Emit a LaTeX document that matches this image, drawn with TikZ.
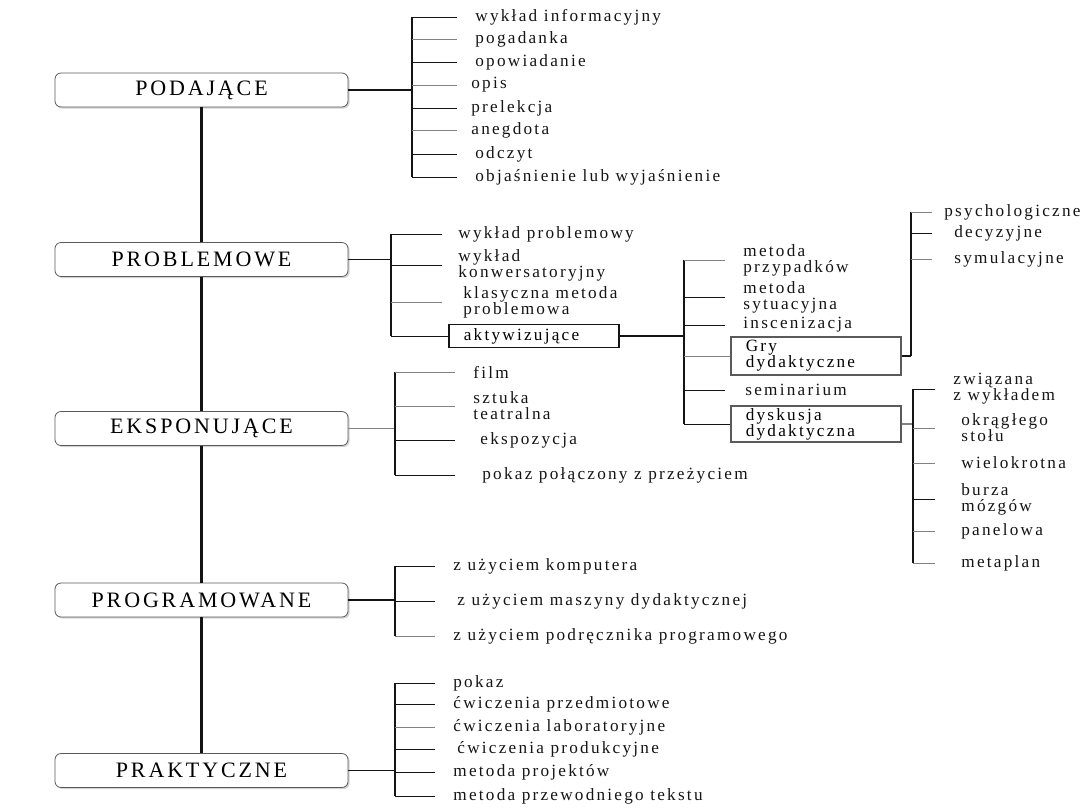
\documentclass[tikz,border=0pt]{standalone}
\usepackage{fontspec}
\setmainfont[LetterSpace=13]{Liberation Serif}
\usepackage{xcolor}
\usetikzlibrary{shadows}
\definecolor{inkdark}{RGB}{20,20,20}
\definecolor{linegray}{RGB}{130,130,130}
\definecolor{boxgray}{RGB}{90,90,90}

\begin{document}
\begin{tikzpicture}[
    x=0.5pt, y=-0.5pt,
    cat/.style={draw=boxgray, rounded corners=3pt, fill=white, minimum width=146.5pt,
                minimum height=17pt, inner sep=0pt, font=\fontsize{11}{12}\selectfont,
                drop shadow={shadow xshift=0.8pt, shadow yshift=-0.8pt, opacity=.35}},
    item/.style={anchor=west, inner xsep=#1, inner ysep=0pt, align=left,
                font=\fontsize{8.6}{8}\selectfont, text=inkdark},
    item/.default=9pt,
    subbox/.style={draw=#1, line width=0.8pt, anchor=west, align=left, text width=70pt,
                inner xsep=7.5pt, inner ysep=1pt, font=\fontsize{8.6}{8}\selectfont},
    trunk/.style={line width=1.2pt, inkdark},
    link/.style={line width=0.6pt, inkdark},
    brack/.style={line width=0.9pt, inkdark},
    tick/.style={line width=0.5pt, inkdark},
    tickg/.style={line width=0.5pt, linegray}
]
\useasboundingbox (0,0) rectangle (1080,810);

% main categories
\node[cat] (pod)  at (201.5,90)  {PODAJĄCE};
\node[cat] (prob) at (201.5,259.5) {PROBLEMOWE};
\node[cat] (eks)  at (201.5,428.5) {EKSPONUJĄCE};
\node[cat] (prog) at (201.5,600) {PROGRAMOWANE};
\node[cat] (prak) at (201.5,770.5) {PRAKTYCZNE};

\draw[trunk] (pod) -- (prob);
\draw[trunk] (prob) -- (eks);
\draw[trunk] (eks) -- (prog);
\draw[trunk] (prog) -- (prak);

% podajace
\coordinate (podb) at (412,90);
\node[item] (p1) at (457,17)  {wykład informacyjny};
\node[item] (p2) at (457,39)  {pogadanka};
\node[item] (p3) at (457,62)  {opowiadanie};
\node[item=7pt] (p4) at (457,85)  {opis};
\node[item=7pt] (p5) at (457,108) {prelekcja};
\node[item=7pt] (p6) at (457,130) {anegdota};
\node[item] (p7) at (457,154) {odczyt};
\node[item] (p8) at (457,177) {objaśnienie lub wyjaśnienie};
\draw[link] (pod) -- (podb);
\draw[brack] (podb |- p1) -- (podb |- p8);
\draw[tick]  (podb |- p1) -- (p1);
\draw[tickg] (podb |- p2) -- (p2);
\draw[tick]  (podb |- p3) -- (p3);
\draw[tickg] (podb |- p4) -- (p4);
\draw[tick]  (podb |- p5) -- (p5);
\draw[tickg] (podb |- p6) -- (p6);
\draw[tick]  (podb |- p7) -- (p7);
\draw[tick]  (podb |- p8) -- (p8);

% problemowe
\coordinate (probb) at (391,259.5);
\node[item=8pt] (r1) at (442,234) {wykład problemowy};
\node[item=8pt] (r2) at (442,265) {wykład\\konwersatoryjny};
\node[item=10.5pt] (r3) at (442,302) {klasyczna metoda\\problemowa};
\node[subbox=inkdark, minimum height=11.5pt] (akt) at (448,336) {aktywizujące};
\draw[link] (prob) -- (probb);
\draw[brack] (probb |- r1) -- (probb |- akt);
\draw[tick]  (probb |- r1) -- (r1);
\draw[tick]  (probb |- r2) -- (r2);
\draw[tickg] (probb |- r3) -- (r3);
\draw[tick]  (probb |- akt) -- (akt);

% aktywizujace
\coordinate (aktb) at (684,336);
\node[item] (a1) at (725,260) {metoda\\przypadków};
\node[item] (a2) at (725,297) {metoda\\sytuacyjna};
\node[item] (a3) at (725,325) {inscenizacja};
\node[subbox=boxgray, minimum height=19pt] (gry) at (730,356) {Gry\\dydaktyczne};
\node[item=10pt] (a5) at (725,390) {seminarium};
\node[subbox=boxgray, minimum height=18pt] (dys) at (730,424) {dyskusja\\dydaktyczna};
\draw[link] (akt) -- (aktb);
\draw[brack] (aktb |- a1) -- (aktb |- dys);
\draw[tickg] (aktb |- a1) -- (a1);
\draw[tick]  (aktb |- a2) -- (a2);
\draw[tick]  (aktb |- a3) -- (a3);
\draw[tickg] (aktb |- gry) -- (gry);
\draw[tick]  (aktb |- a5) -- (a5);
\draw[tick]  (aktb |- dys) -- (dys);

% gry dydaktyczne
\coordinate (gryb) at (911,356);
\node[item=6pt] (g1) at (932,212) {psychologiczne};
\node[item=11pt] (g2) at (932,233) {decyzyjne};
\node[item=11pt] (g3) at (932,259) {symulacyjne};
\draw[link] (gry) -- (gryb);
\draw[brack] (gryb) -- (gryb |- g1);
\draw[tickg] (gryb |- g1) -- (g1);
\draw[tick]  (gryb |- g2) -- (g2);
\draw[tickg] (gryb |- g3) -- (g3);

% dyskusja dydaktyczna
\coordinate (dysb) at (913,424);
\node[item] (d1) at (935,389) {związana\\z wykładem};
\node[item=13pt] (d2) at (935,428) {okrągłego\\stołu};
\node[item=13pt] (d3) at (935,463) {wielokrotna};
\node[item=13pt] (d4) at (935,499) {burza\\mózgów};
\node[item=13pt] (d5) at (935,531) {panelowa};
\node[item=13pt] (d6) at (935,563) {metaplan};
\draw[tickg, line width=0.6pt] (dys) -- (dysb);
\draw[brack] (dysb |- d1) -- (dysb |- d6);
\draw[tick]  (dysb |- d1) -- (d1);
\draw[tickg] (dysb |- d2) -- (d2);
\draw[tickg] (dysb |- d3) -- (d3);
\draw[tick]  (dysb |- d4) -- (d4);
\draw[tickg] (dysb |- d5) -- (d5);
\draw[tickg] (dysb |- d6) -- (d6);

% eksponujace
\coordinate (eksb) at (395,428.5);
\node[item] (e1) at (455,372) {film};
\node[item] (e2) at (455,406) {sztuka\\teatralna};
\node[item=12.5pt] (e3) at (455,440) {ekspozycja};
\node[item=13.5pt] (e4) at (455,475) {pokaz połączony z przeżyciem};
\draw[tickg, line width=0.6pt] (eks) -- (eksb);
\draw[brack] (eksb |- e1) -- (eksb |- e4);
\draw[tickg] (eksb |- e1) -- (e1);
\draw[tickg] (eksb |- e2) -- (e2);
\draw[tick]  (eksb |- e3) -- (e3);
\draw[tick]  (eksb |- e4) -- (e4);

% programowane
\coordinate (progb) at (395,600);
\node[item] (m1) at (435,566) {z użyciem komputera};
\node[item=11pt] (m2) at (435,601) {z użyciem maszyny dydaktycznej};
\node[item] (m3) at (435,636) {z użyciem podręcznika programowego};
\draw[link] (prog) -- (progb);
\draw[brack, line width=0.6pt] (progb |- m1) -- (progb |- m3);
\draw[tick]  (progb |- m1) -- (m1);
\draw[tick]  (progb |- m2) -- (m2);
\draw[tickg] (progb |- m3) -- (m3);

% praktyczne
\coordinate (prakb) at (395,770.5);
\node[item] (k1) at (435,683) {pokaz};
\node[item] (k2) at (435,704) {ćwiczenia przedmiotowe};
\node[item] (k3) at (435,727) {ćwiczenia laboratoryjne};
\node[item=11pt] (k4) at (435,749) {ćwiczenia produkcyjne};
\node[item] (k5) at (435,772) {metoda projektów};
\node[item] (k6) at (435,796) {metoda przewodniego tekstu};
\draw[link] (prak) -- (prakb);
\draw[brack, line width=0.6pt] (prakb |- k1) -- (prakb |- k6);
\draw[tick]  (prakb |- k1) -- (k1);
\draw[tick]  (prakb |- k2) -- (k2);
\draw[tickg] (prakb |- k3) -- (k3);
\draw[tick]  (prakb |- k4) -- (k4);
\draw[tick]  (prakb |- k5) -- (k5);
\draw[tick]  (prakb |- k6) -- (k6);
\end{tikzpicture}
\end{document}
